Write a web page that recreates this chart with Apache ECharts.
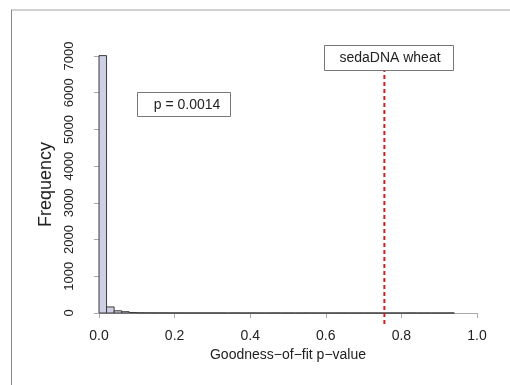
<!DOCTYPE html>
<html>
<head>
<meta charset="utf-8">
<script src="https://cdn.jsdelivr.net/npm/echarts@6/dist/echarts.min.js"></script>
<style>
html,body{margin:0;padding:0;background:#fff;}
#chart{width:510px;height:385px;}
</style>
</head>
<body>
<div id="chart"></div>
<script>
// Histogram bins (width 0.02) of goodness-of-fit p-values
const binStarts = [0.00,0.02,0.04,0.06,0.08,0.10,0.12,0.14,0.16,0.18,0.20,0.22,0.24,0.26,0.28,0.30,0.32,0.34,0.36,0.38,0.40,0.42,0.44,0.46,0.48,0.50,0.52,0.54,0.56,0.58,0.60,0.62,0.64,0.66,0.68,0.70,0.72,0.74,0.76,0.78,0.80,0.82,0.84,0.86,0.88,0.90,0.92];
const binCounts = [7010,165,60,35,14,6,4,3,3,2,2,1,1,1,1,1,1,0,1,0,1,0,0,1,0,0,0,1,0,0,0,0,1,0,0,0,0,0,0,0,0,1,0,0,0,0,1];
const binWidth = 0.02;
const observedP = 0.755;
const observedLabel = "sedaDNA wheat";
const pLabel = "p = 0.0014";
const xTicks = [0, 0.2, 0.4, 0.6, 0.8, 1.0];
const yTicks = [0, 1000, 2000, 3000, 4000, 5000, 6000, 7000];

const histData = binStarts.map((s, i) => [s, +(s + binWidth).toFixed(2), binCounts[i]]);

const font = "'Liberation Sans', Arial, sans-serif";
const chart = echarts.init(document.getElementById('chart'), null, {renderer: 'canvas'});

chart.setOption({
  animation: false,
  backgroundColor: '#ffffff',
  grid: {left: 99, right: 33, top: 56, bottom: 72, containLabel: false},
  xAxis: {
    type: 'value', min: xTicks[0], max: xTicks[xTicks.length - 1], interval: 0.2, offset: 10,
    name: 'Goodness\u2212of\u2212fit p\u2212value', nameLocation: 'middle', nameGap: 23,
    nameTextStyle: {fontFamily: font, fontSize: 14, color: '#222', verticalAlign: 'top'},
    axisLine: {show: true, lineStyle: {color: '#aaaaaa', width: 1}},
    axisTick: {show: true, inside: false, length: 5, lineStyle: {color: '#aaaaaa'}},
    axisLabel: {fontFamily: font, fontSize: 14, color: '#222', margin: 6,
      formatter: v => v.toFixed(1)},
    splitLine: {show: false}
  },
  yAxis: {
    type: 'value', min: yTicks[0], max: yTicks[yTicks.length - 1], interval: 1000, offset: 16,
    name: 'Frequency', nameLocation: 'middle', nameGap: 25, nameRotate: 90,
    nameTextStyle: {fontFamily: font, fontSize: 18, color: '#222'},
    axisLine: {show: true, lineStyle: {color: '#aaaaaa', width: 1}},
    axisTick: {show: true, length: 5, lineStyle: {color: '#aaaaaa'}},
    axisLabel: {fontFamily: font, fontSize: 13, color: '#222', rotate: 90, margin: 7,
      formatter: v => String(v)},
    splitLine: {show: false}
  },
  series: [
    {
      type: 'custom',
      data: histData,
      clip: false,
      renderItem: function (params, api) {
        const p0 = api.coord([api.value(0), api.value(2)]);
        const p1 = api.coord([api.value(1), 0]);
        return {
          type: 'rect',
          shape: {x: p0[0], y: p0[1], width: p1[0] - p0[0], height: p1[1] - p0[1]},
          style: {fill: '#cdd0e5', stroke: '#3a3a3a', lineWidth: 1}
        };
      }
    },
    {
      type: 'line',
      clip: false,
      symbol: 'none',
      data: [[observedP, -300], [observedP, 6620]],
      lineStyle: {color: '#cc1f1f', width: 2, type: [4, 3]},
      z: 5
    }
  ],
  graphic: [
    {type: 'line', shape: {x1: 11, y1: 10, x2: 510, y2: 10}, style: {stroke: '#d0d0d0', lineWidth: 2}, silent: true},
    {type: 'line', shape: {x1: 11.5, y1: 10, x2: 11.5, y2: 385}, style: {stroke: '#888888', lineWidth: 1}, silent: true},
    {type: 'rect', shape: {x: 324.5, y: 45.5, width: 129, height: 25}, style: {fill: '#ffffff', stroke: '#777777', lineWidth: 1}, z: 10},
    {type: 'text', x: 390, y: 58, style: {text: observedLabel, font: '14px ' + font, fill: '#222', align: 'center', verticalAlign: 'middle'}, z: 11},
    {type: 'rect', shape: {x: 137.5, y: 92.5, width: 93, height: 24}, style: {fill: '#ffffff', stroke: '#777777', lineWidth: 1}, z: 10},
    {type: 'text', x: 187, y: 105, style: {text: pLabel, font: '14px ' + font, fill: '#222', align: 'center', verticalAlign: 'middle'}, z: 11}
  ]
});
</script>
</body>
</html>
